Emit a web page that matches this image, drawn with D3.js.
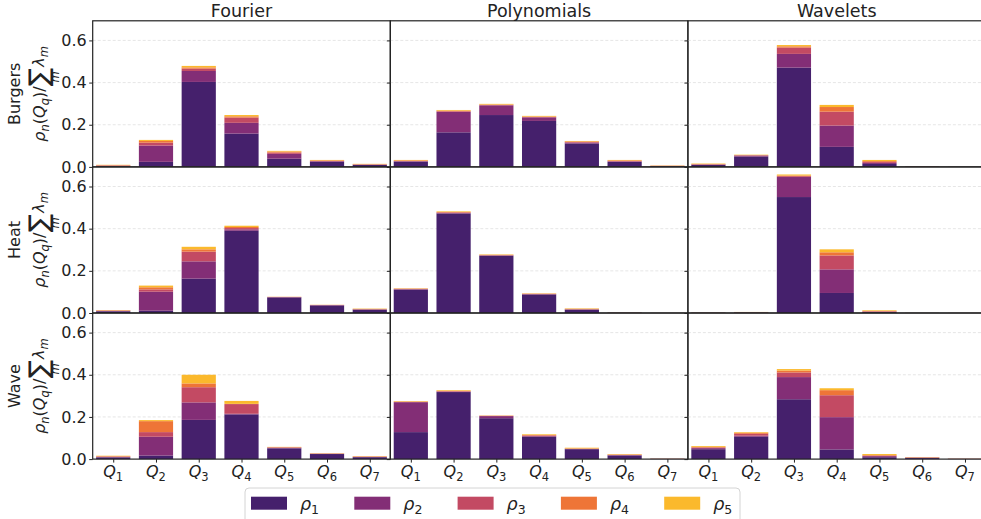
<!DOCTYPE html>
<html>
<head>
<meta charset="utf-8">
<script src="https://cdn.jsdelivr.net/npm/d3@7"></script>
<style>
  body { margin: 0; background: #fff; }
  svg { display: block; }
  text { font-family: "DejaVu Sans", sans-serif; fill: #222; }
</style>
</head>
<body>
<svg id="chart" width="981" height="519"></svg>
<script>
// Categories and series
const quadrants = ["1", "2", "3", "4", "5", "6", "7"];
const methods = ["Fourier", "Polynomials", "Wavelets"];
const equations = ["Burgers", "Heat", "Wave"];
const modes = ["1", "2", "3", "4", "5"];
const modeColors = ["#45206c", "#832e76", "#c34a63", "#ee7537", "#fbb92c"];
const yTicks = [0, 0.2, 0.4, 0.6];

// Each array: rows rho_1..rho_5, columns Q_1..Q_7
const burgersFourier = [
  [0.003, 0.024, 0.403, 0.158, 0.039, 0.024, 0.0095],
  [0.002, 0.077, 0.052, 0.051, 0.023, 0.003, 0.001],
  [0.002, 0.014, 0.011, 0.025, 0.006, 0.001, 0.001],
  [0.0015, 0.008, 0.006, 0.006, 0.005, 0.003, 0.0015],
  [0.0015, 0.005, 0.007, 0.006, 0.003, 0.002, 0.0015]
];
const burgersPolynomials = [
  [0.025, 0.164, 0.246, 0.218, 0.111, 0.024, 0.003],
  [0.002, 0.097, 0.046, 0.017, 0.004, 0.002, 0.001],
  [0.001, 0.003, 0.002, 0.002, 0.003, 0.002, 0.001],
  [0.003, 0.003, 0.002, 0.002, 0.003, 0.003, 0.001],
  [0.002, 0.003, 0.003, 0.003, 0.002, 0.002, 0.001]
];
const burgersWavelets = [
  [0.010, 0.049, 0.471, 0.095, 0.014, 0.001, 0.0003],
  [0.001, 0.005, 0.065, 0.101, 0.005, 0.0005, 0.0002],
  [0.001, 0.001, 0.030, 0.066, 0.005, 0.0005, 0.0002],
  [0.002, 0.001, 0.006, 0.022, 0.004, 0.0005, 0.0002],
  [0.002, 0.002, 0.006, 0.010, 0.005, 0.0005, 0.0002]
];
const heatFourier = [
  [0.008, 0.011, 0.163, 0.390, 0.074, 0.036, 0.016],
  [0.002, 0.090, 0.082, 0.007, 0.001, 0.001, 0.001],
  [0.001, 0.011, 0.046, 0.006, 0.001, 0.001, 0.001],
  [0.002, 0.010, 0.011, 0.005, 0.0005, 0.0005, 0.0015],
  [0.001, 0.008, 0.012, 0.006, 0.0005, 0.0005, 0.0015]
];
const heatPolynomials = [
  [0.111, 0.472, 0.272, 0.088, 0.016, 0.001, 0.0002],
  [0.002, 0.002, 0.001, 0.001, 0.001, 0.0005, 0.0001],
  [0.001, 0.003, 0.001, 0.001, 0.001, 0.0005, 0.0001],
  [0.002, 0.002, 0.002, 0.002, 0.002, 0.0005, 0.0001],
  [0.001, 0.003, 0.002, 0.001, 0.002, 0.0005, 0.0001]
];
const heatWavelets = [
  [0.001, 0.002, 0.550, 0.095, 0.004, 0.0003, 0.0002],
  [0.0005, 0.001, 0.095, 0.112, 0.002, 0.0002, 0.0001],
  [0.0005, 0.0005, 0.004, 0.066, 0.002, 0.0002, 0.0001],
  [0.0005, 0.0005, 0.003, 0.015, 0.002, 0.0002, 0.0001],
  [0.0005, 0.001, 0.005, 0.014, 0.003, 0.0002, 0.0001]
];
const waveFourier = [
  [0.008, 0.017, 0.186, 0.212, 0.051, 0.024, 0.009],
  [0.002, 0.089, 0.083, 0.003, 0.003, 0.001, 0.001],
  [0.002, 0.022, 0.072, 0.046, 0.001, 0.001, 0.001],
  [0.002, 0.052, 0.018, 0.001, 0.002, 0.001, 0.002],
  [0.002, 0.005, 0.041, 0.014, 0.001, 0.001, 0.001]
];
const wavePolynomials = [
  [0.128, 0.318, 0.194, 0.106, 0.047, 0.017, 0.001],
  [0.142, 0.002, 0.010, 0.003, 0.001, 0.002, 0.0005],
  [0.001, 0.002, 0.001, 0.003, 0.001, 0.001, 0.0005],
  [0.002, 0.002, 0.001, 0.003, 0.002, 0.002, 0.0005],
  [0.002, 0.003, 0.001, 0.003, 0.003, 0.002, 0.0005]
];
const waveWavelets = [
  [0.047, 0.106, 0.284, 0.046, 0.009, 0.005, 0.001],
  [0.005, 0.005, 0.105, 0.153, 0.005, 0.002, 0.0005],
  [0.003, 0.009, 0.022, 0.104, 0.002, 0.001, 0.0005],
  [0.003, 0.005, 0.009, 0.024, 0.003, 0.001, 0.0005],
  [0.004, 0.003, 0.007, 0.009, 0.005, 0.001, 0.0005]
];

const panels = [
  [burgersFourier, burgersPolynomials, burgersWavelets],
  [heatFourier, heatPolynomials, heatWavelets],
  [waveFourier, wavePolynomials, waveWavelets]
];

// Layout
const gridLeft = 92.7, gridTop = 20.8, colW = 297.6, rowH = 146.1;
const yMax = 0.693;
const svg = d3.select("#chart");
const stack = d3.stack().keys(modes);

// Append math-like runs to a <text>: each part {t, size, italic, shift}
function mathRuns(textSel, parts) {
  let prev = 0;
  parts.forEach(p => {
    const shift = p.shift || 0;
    textSel.append("tspan").text(p.t)
      .attr("font-size", p.size)
      .attr("font-style", p.italic ? "italic" : "normal")
      .attr("dy", shift - prev);
    prev = shift;
  });
  return textSel;
}
const sym = (base, sub, bs, ss, subItalic) => [
  { t: base, size: bs, italic: true },
  { t: sub, size: ss, italic: subItalic, shift: bs * 0.25 }
];

panels.forEach((row, r) => {
  row.forEach((series, c) => {
    const x0 = gridLeft + c * colW, y0 = gridTop + r * rowH;
    const x = d3.scaleLinear().domain([-0.48, 6.48]).range([x0, x0 + colW]);
    const y = d3.scaleLinear().domain([0, yMax]).range([y0 + rowH, y0]);
    const g = svg.append("g");

    // dashed horizontal grid
    g.selectAll("line.grid").data(yTicks.filter(t => t > 0)).join("line")
      .attr("x1", x0).attr("x2", x0 + colW)
      .attr("y1", d => y(d)).attr("y2", d => y(d))
      .attr("stroke", "#e3e3e3").attr("stroke-width", 0.9)
      .attr("stroke-dasharray", "3,2");

    // stacked bars
    const table = quadrants.map((q, i) => {
      const o = { q: i };
      modes.forEach((m, k) => { o[m] = series[k][i]; });
      return o;
    });
    const layers = stack(table);
    g.selectAll("g.layer").data(layers).join("g")
      .attr("fill", (d, k) => modeColors[k])
      .selectAll("rect").data(d => d).join("rect")
      .attr("x", d => x(d.data.q - 0.4))
      .attr("width", d => x(d.data.q + 0.4) - x(d.data.q - 0.4))
      .attr("y", d => y(d[1]))
      .attr("height", d => Math.max(0, y(d[0]) - y(d[1])));

    // y axis with outward ticks
    const yAxis = d3.axisLeft(y).tickValues(yTicks).tickSize(3.5).tickPadding(2.5)
      .tickFormat(c === 0 ? d3.format(".1f") : () => "");
    const ya = g.append("g").attr("transform", `translate(${x0},0)`).call(yAxis);
    ya.select(".domain").remove();
    ya.selectAll(".tick line").attr("stroke", "#222").attr("stroke-width", 1);
    if (c === 0) {
      ya.selectAll(".tick text").attr("font-size", 16).attr("fill", "#222")
        .attr("font-family", "DejaVu Sans");
    } else {
      ya.selectAll(".tick text").remove();
    }

    // x axis on the bottom row
    if (r === panels.length - 1) {
      const xAxis = d3.axisBottom(x).tickValues(d3.range(quadrants.length))
        .tickSize(3.5).tickFormat(() => "");
      const xa = g.append("g").attr("transform", `translate(0,${y0 + rowH})`).call(xAxis);
      xa.select(".domain").remove();
      xa.selectAll(".tick text").remove();
      xa.selectAll(".tick line").attr("stroke", "#222").attr("stroke-width", 1);
      quadrants.forEach((q, i) => {
        const t = g.append("text").attr("x", x(i)).attr("y", 476.5)
          .attr("text-anchor", "middle");
        mathRuns(t, sym("Q", q, 16, 11.5, false));
      });
    }

    // panel frame
    g.append("rect").attr("x", x0).attr("y", y0).attr("width", colW).attr("height", rowH)
      .attr("fill", "none").attr("stroke", "#222").attr("stroke-width", 1.2);

    // column titles
    if (r === 0) {
      svg.append("text").attr("x", x0 + colW / 2).attr("y", 16.5)
        .attr("text-anchor", "middle").attr("font-size", 17.5).text(methods[c]);
    }
  });

  // row label: equation name and normalised-mode expression
  const cy = gridTop + r * rowH + rowH / 2;
  svg.append("text").attr("transform", `translate(20,${cy}) rotate(-90)`)
    .attr("text-anchor", "middle").attr("font-size", 16).text(equations[r]);

  const lab = svg.append("g").attr("transform", `translate(45,${cy}) rotate(-90)`);
  const inner = lab.append("g");
  const t1 = inner.append("text");
  mathRuns(t1, [
    ...sym("\u03C1", "n", 16, 11.5, true),
    { t: "(", size: 16, italic: false },
    ...sym("Q", "q", 16, 11.5, true),
    { t: ")/", size: 16, italic: false }
  ]);
  const w1 = t1.node().getComputedTextLength();
  const sig = inner.append("text").attr("x", w1 + 0.5).attr("y", 2.5)
    .attr("font-size", 27).text("\u2211");
  const w2 = sig.node().getComputedTextLength();
  inner.append("text").attr("x", w1 + 0.5 + w2 / 2).attr("y", 14)
    .attr("text-anchor", "middle").attr("font-size", 11.5).attr("font-style", "italic")
    .text("m");
  const t3 = inner.append("text").attr("x", w1 + w2 + 1.5).attr("y", -1.5);
  mathRuns(t3, sym("\u03BB", "m", 16, 11.5, true));
  const w3 = t3.node().getComputedTextLength();
  inner.attr("transform", `translate(${-(w1 + w2 + 1.5 + w3) / 2},0)`);
});

// legend
const legend = svg.append("g");
legend.append("rect").attr("x", 245).attr("y", 488).attr("width", 495).attr("height", 45)
  .attr("rx", 4).attr("fill", "#fff").attr("stroke", "#d4d4d4").attr("stroke-width", 1);
modes.forEach((m, k) => {
  const lx = 251 + k * 103.3;
  legend.append("rect").attr("x", lx).attr("y", 496.7).attr("width", 36).attr("height", 13)
    .attr("fill", modeColors[k]);
  const t = legend.append("text").attr("x", lx + 49).attr("y", 509.5);
  mathRuns(t, sym("\u03C1", m, 17.5, 12.5, false));
});
</script>
</body>
</html>
